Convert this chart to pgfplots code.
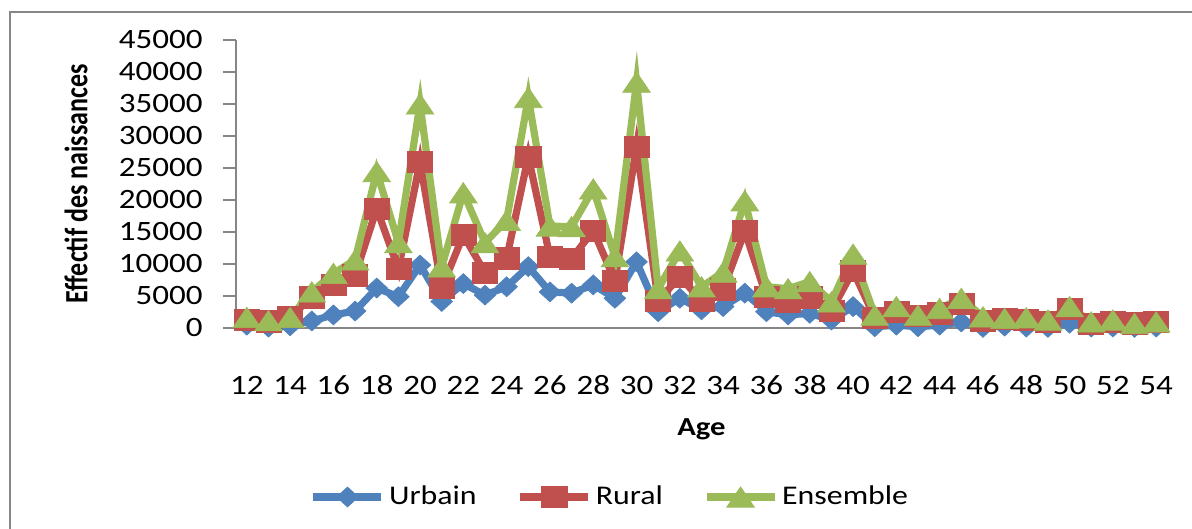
\documentclass[border=0pt]{standalone}
\usepackage{pgfplots}
\pgfplotsset{compat=1.18}
\usepackage{fontspec}
\setmainfont{Carlito}[FakeStretch=1.18]
\newfontfamily\ylabfont{Carlito}
\definecolor{cblue}{HTML}{4F81BD}
\definecolor{cred}{HTML}{C0504D}
\definecolor{cgreen}{HTML}{9BBB59}
\definecolor{cgray}{HTML}{868686}
\begin{document}
\fontsize{13pt}{15pt}\selectfont
\begin{tikzpicture}
\path[use as bounding box] (0,0) rectangle (596pt,264.5pt);
\draw[cgray, line width=1pt] (5pt,-2pt) -- (5pt,258.5pt) -- (600pt,258.5pt);
\begin{axis}[
  at={(118pt,100.65pt)}, anchor=south west,
  scale only axis, width=465.5pt, height=143.85pt,
  clip=false,
  xmin=11.5, xmax=54.5, ymin=0, ymax=45000,
  xtick={12,14,...,54},
  ytick={0,5000,...,45000},
  axis lines=left,
  axis line style={cgray, line width=1.1pt, -},
  tick align=outside,
  xtick style={draw=none},
  ytick style={cgray, line width=1.1pt},
  major tick length=6.5pt,
  /pgf/number format/.cd, 1000 sep={}, assume math mode=true,
  /pgfplots/.cd,
  scaled y ticks=false,
  tick label style={font=\fontsize{14pt}{16pt}\selectfont},
  yticklabel style={anchor=east, inner sep=0pt, xshift=-10pt},
  xticklabel style={anchor=base, inner sep=0pt, yshift=-27pt},
  xlabel={\bfseries Age},
  xlabel style={at={(axis description cs:0.5,0)}, anchor=base, yshift=-53.9pt},
  ylabel={\ylabfont\bfseries\scalebox{1}[1.25]{Effectif des naissances}},
  ylabel style={at={(axis description cs:-0.1719,0.5)}, anchor=center, rotate=0},
  legend columns=3,
  legend style={at={(0.4028,-0.5885)}, anchor=center, draw=none, fill=none,
    font=\fontsize{13.5pt}{15pt}\selectfont,
    /tikz/every even column/.append style={column sep=18pt}},
  legend image code/.code={\draw[mark repeat=2,mark phase=2,#1] plot coordinates {(0pt,0pt)(17pt,0pt)(34pt,0pt)};},
]
\addplot[cblue, line width=3.6pt, mark=diamond*, mark size=5pt,
  mark options={solid, xscale=1.45, fill=cblue, draw=cblue, line width=0.3pt}] coordinates {
(12,400)(13,100)(14,300)(15,1050)(16,2000)(17,2600)(18,6200)(19,4850)(20,9800)
(21,4100)(22,6900)(23,5100)(24,6400)(25,9550)(26,5600)(27,5400)(28,6700)(29,4600)
(30,10300)(31,2500)(32,4600)(33,2800)(34,3300)(35,5400)(36,2500)(37,2000)(38,2250)
(39,1200)(40,3300)(41,150)(42,400)(43,150)(44,400)(45,900)(46,50)(47,250)(48,100)
(49,50)(50,700)(51,100)(52,100)(53,50)(54,100)};
\addlegendentry{Urbain}
\addplot[cred, line width=3.6pt, mark=square*, mark size=5.3pt,
  mark options={solid, xscale=1.18, fill=cred, draw=cred, line width=0.3pt}] coordinates {
(12,1200)(13,1000)(14,1700)(15,4750)(16,6700)(17,8200)(18,18600)(19,9200)(20,25900)
(21,6200)(22,14500)(23,8600)(24,10850)(25,26750)(26,11100)(27,10800)(28,15200)(29,7350)
(30,28300)(31,4200)(32,8000)(33,4200)(34,6000)(35,15100)(36,4850)(37,4100)(38,4750)
(39,2650)(40,8900)(41,1600)(42,2500)(43,1900)(44,2250)(45,3700)(46,1100)(47,1350)(48,1200)
(49,950)(50,3000)(51,600)(52,950)(53,700)(54,950)};
\addlegendentry{Rural}
\addplot[cgreen, line width=3.6pt, mark=triangle*, mark size=6.8pt,
  mark options={solid, xscale=1.18, yshift=-1.7pt, fill=cgreen, draw=cgreen, line width=0.3pt}] coordinates {
(12,1600)(13,1100)(14,1600)(15,5600)(16,8500)(17,10600)(18,24400)(19,13300)(20,35000)
(21,9500)(22,21100)(23,13300)(24,16800)(25,36000)(26,15900)(27,15800)(28,21700)(29,11100)
(30,38400)(31,6100)(32,12000)(33,6400)(34,8700)(35,19850)(36,6400)(37,6100)(38,7200)
(39,4050)(40,11500)(41,1950)(42,3300)(43,1950)(44,3000)(45,4600)(46,1700)(47,1450)(48,1550)
(49,1200)(50,3300)(51,900)(52,1200)(53,650)(54,900)};
\addlegendentry{Ensemble}
\end{axis}
\end{tikzpicture}
\end{document}
